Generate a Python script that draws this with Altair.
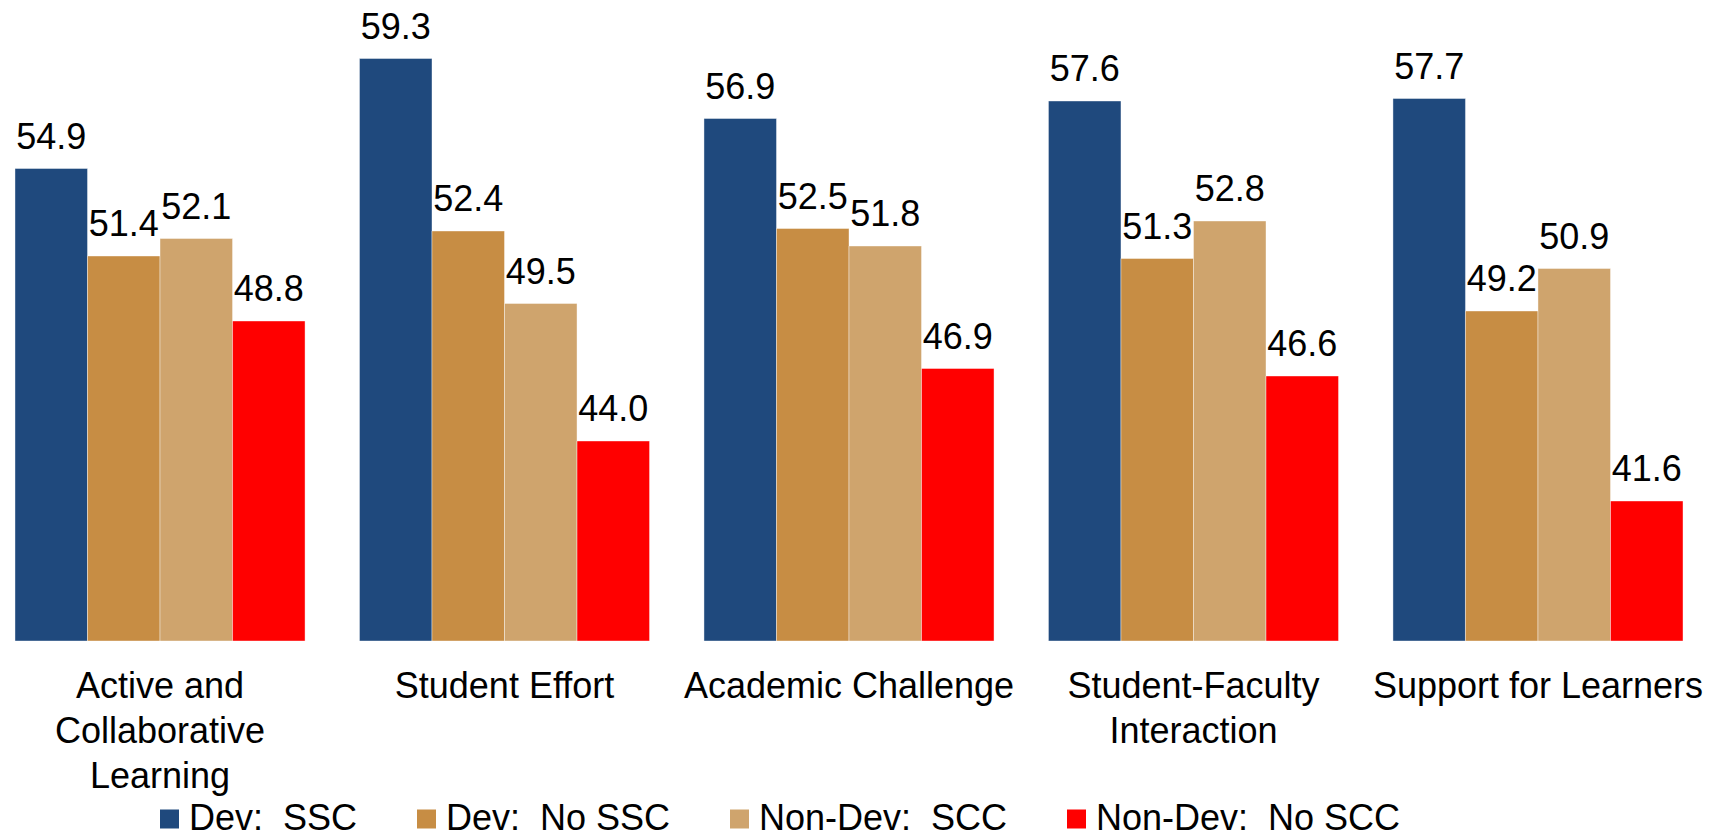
import altair as alt
import pandas as pd

categories = [
    "Active and Collaborative Learning",
    "Student Effort",
    "Academic Challenge",
    "Student-Faculty Interaction",
    "Support for Learners",
]
series = ["Dev:\u00a0 SSC", "Dev:\u00a0 No SSC", "Non-Dev:\u00a0 SCC", "Non-Dev:\u00a0 No SCC"]
dev_ssc = [54.9, 59.3, 56.9, 57.6, 57.7]
dev_no_ssc = [51.4, 52.4, 52.5, 51.3, 49.2]
nondev_scc = [52.1, 49.5, 51.8, 52.8, 50.9]
nondev_no_scc = [48.8, 44.0, 46.9, 46.6, 41.6]
colors = ["#1F497D", "#C78D44", "#CFA46D", "#FF0000"]

rows = []
for s, vals in zip(series, [dev_ssc, dev_no_ssc, nondev_scc, nondev_no_scc]):
    for c, v in zip(categories, vals):
        rows.append({"category": c, "series": s, "value": v})
df = pd.DataFrame(rows)

FONT = "Liberation Sans"

label_expr = (
    "datum.label == 'Active and Collaborative Learning' ? ['Active and', 'Collaborative', 'Learning'] : "
    "datum.label == 'Student-Faculty Interaction' ? ['Student-Faculty', 'Interaction'] : datum.label"
)

base = alt.Chart(df).encode(
    x=alt.X(
        "category:N",
        sort=categories,
        scale=alt.Scale(paddingInner=0.158, paddingOuter=0.0203),
        axis=alt.Axis(
            title=None,
            ticks=False,
            domain=False,
            labelAngle=0,
            labelFontSize=36,
            labelFont=FONT,
            labelColor="black",
            labelPadding=28,
            labelLimit=600,
            labelLineHeight=45,
            labelExpr=label_expr,
        ),
    ),
    xOffset=alt.XOffset("series:N", sort=series, scale=alt.Scale(paddingInner=0, paddingOuter=0)),
)

yscale = alt.Scale(domain=[36, 61], zero=False, nice=False)

bars = base.mark_bar(stroke="white", strokeWidth=0.8, strokeOpacity=0.5).encode(
    y=alt.Y("value:Q", scale=yscale, axis=None),
    y2=alt.datum(36),
    color=alt.Color(
        "series:N",
        scale=alt.Scale(domain=series, range=colors),
        legend=alt.Legend(
            title=None,
            orient="none",
            legendX=143.5,
            legendY=785,
            direction="horizontal",
            columns=4,
            symbolType="square",
            symbolSize=361,
            symbolStrokeWidth=0,
            symbolOpacity=1,
            labelFontSize=36,
            labelFont=FONT,
            labelColor="black",
            labelOffset=1.5,
            columnPadding=51,
            padding=0,
            labelLimit=600,
        ),
    ),
)

texts = base.mark_text(
    fontSize=36, font=FONT, color="black", baseline="alphabetic", align="center", dy=-20
).encode(
    y=alt.Y("value:Q", scale=yscale, axis=None),
    text=alt.Text("value:Q", format=".1f"),
)

chart = (
    alt.layer(bars, texts)
    .properties(
        width=1682,
        height=625,
        autosize=alt.AutoSizeParams(type="none"),
        padding={"left": 0, "top": 8, "right": 20, "bottom": 195},
    )
    .configure_view(stroke=None)
)

chart.save("out.html", embed_options={"renderer": "svg", "actions": False})
